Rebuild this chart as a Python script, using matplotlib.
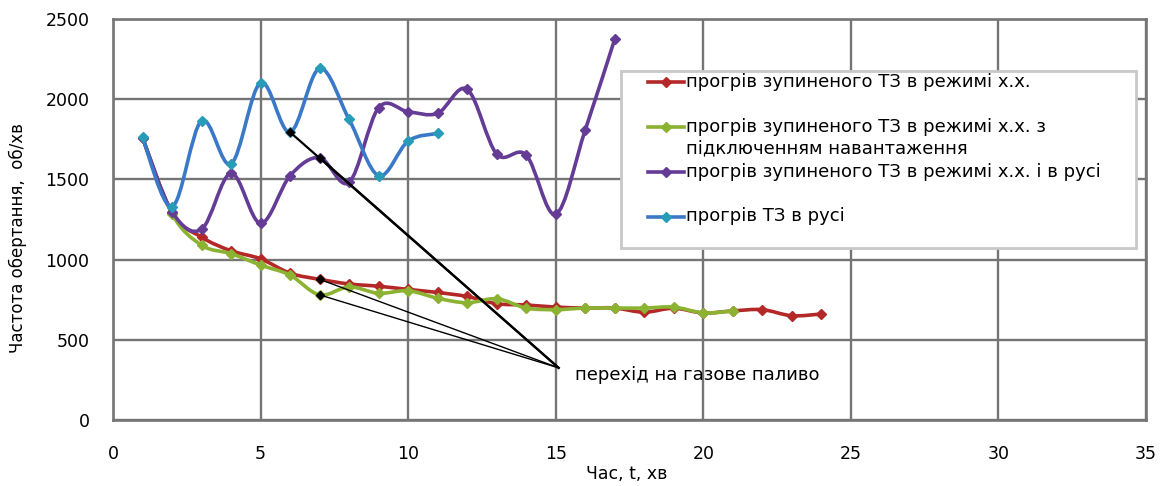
import numpy as np
import matplotlib
matplotlib.use('Agg')
import matplotlib.pyplot as plt
from matplotlib.path import Path
from matplotlib.patches import PathPatch, Rectangle
from matplotlib.lines import Line2D
from matplotlib.legend_handler import HandlerLine2D

plt.rcParams['font.family'] = ['DejaVu Sans']

# ---------------- data ----------------
t_red = list(range(1, 25))
n_red = [1760, 1290, 1140, 1055, 1005, 915, 877, 848, 834, 814, 795, 770,
         725, 717, 704, 698, 698, 672, 697, 667, 680, 688, 650, 661]
t_green = list(range(1, 22))
n_green = [1760, 1285, 1090, 1037, 966, 903, 780, 830, 790, 806, 759, 731,
           756, 698, 688, 698, 698, 698, 704, 668, 680]
t_purple = list(range(1, 18))
n_purple = [1760, 1299, 1189, 1538, 1226, 1523, 1636, 1482, 1947, 1922, 1912,
            2062, 1658, 1652, 1282, 1808, 2375]
t_blue = list(range(1, 12))
n_blue = [1762, 1330, 1866, 1596, 2103, 1794, 2192, 1874, 1523, 1739, 1787]

labels = ["прогрів зупиненого ТЗ в режимі х.х.",
          "прогрів зупиненого ТЗ в режимі х.х. з\nпідключенням навантаження",
          "прогрів зупиненого ТЗ в режимі х.х. і в русі",
          "прогрів ТЗ в русі"]

# points where the switch to gas fuel happens (series index, time)
gas_series = [3, 2, 0, 1]
gas_t = [6, 7, 7, 7]
gas_label = "перехід на газове паливо"
gas_target = (15.1, 325)

x_ticks = [0, 5, 10, 15, 20, 25, 30, 35]
y_ticks = [0, 500, 1000, 1500, 2000, 2500]
xlabel = "Час, t, хв"
ylabel = "Частота обертання,  об/хв"

# ---------------- style ----------------
line_colors = ['#B42828', '#8CB232', '#643C96', '#3A78C8']
marker_colors = ['#B42828', '#8CB232', '#643C96', '#289BB9']
grid_col = '#757575'


def smooth_path(x, y):
    pts = np.column_stack([np.asarray(x, float), np.asarray(y, float)])
    n = len(pts)
    verts = [pts[0]]
    codes = [Path.MOVETO]
    for i in range(n - 1):
        p0 = pts[i - 1] if i > 0 else pts[i]
        p1 = pts[i]
        p2 = pts[i + 1]
        p3 = pts[i + 2] if i + 2 < n else pts[i + 1]
        c1 = p1 + (p2 - p0) / 6.0
        c2 = p2 - (p3 - p1) / 6.0
        verts += [c1, c2, p2]
        codes += [Path.CURVE4] * 3
    return Path(verts, codes)


fig = plt.figure(figsize=(11.75, 4.86), dpi=100)
ax = fig.add_axes([113 / 1175, 66 / 486, 1033 / 1175, 401 / 486])
ax.set_xlim(0, 35)
ax.set_ylim(0, 2500)
ax.set_xticks(x_ticks)
ax.set_yticks(y_ticks)
ax.grid(True, color=grid_col, lw=1.7)
ax.set_axisbelow(True)
for s in ax.spines.values():
    s.set_color(grid_col)
    s.set_linewidth(1.9)
ax.tick_params(length=0, labelsize=12.5, colors='black')
ax.tick_params(axis='x', pad=18)
ax.tick_params(axis='y', pad=17)

series = [(t_red, n_red), (t_green, n_green), (t_purple, n_purple), (t_blue, n_blue)]
handles = []
for i, (tx, ny) in enumerate(series):
    patch = PathPatch(smooth_path(tx, ny), fill=False, edgecolor=line_colors[i],
                      lw=2.6, capstyle='round', joinstyle='round', zorder=3 + i)
    ax.add_patch(patch)
    ax.plot(tx, ny, ls='none', marker='D', ms=5.5, color=marker_colors[i],
            zorder=3 + i)
    handles.append(Line2D([], [], color=line_colors[i], lw=2.6, marker='D', ms=5,
                          mfc=marker_colors[i], mec=marker_colors[i]))

# gas fuel annotation
for k, (si, tt) in enumerate(zip(gas_series, gas_t)):
    tx, ny = series[si]
    yv = ny[tx.index(tt)]
    lw = 1.6 if k < 2 else 1.0
    ax.plot([tt, gas_target[0]], [yv, gas_target[1]], color='black', lw=lw, zorder=9)
    ax.plot([tt], [yv], ls='none', marker='D', ms=4.5, color='black', zorder=10)
ax.text(gas_target[0] + 0.55, gas_target[1] - 45, gas_label, fontsize=13,
        ha='left', va='center', zorder=10)

ax.set_xlabel(xlabel, fontsize=12.5)
ax.set_ylabel(ylabel, fontsize=12)
ax.xaxis.set_label_coords(0.4976, -0.113)
ax.yaxis.set_label_coords(-0.083, 0.454)

# legend
ax.add_patch(Rectangle((0.4918, 0.4289), 0.9903 - 0.4918, 0.8703 - 0.4289,
                       transform=ax.transAxes, facecolor='white',
                       edgecolor='#C8C8C8', lw=2, zorder=20))


class ShiftedLine(HandlerLine2D):
    def __init__(self, dy, **kw):
        super().__init__(**kw)
        self.dy = dy

    def create_artists(self, legend, orig_handle, xdescent, ydescent, width,
                       height, fontsize, trans):
        arts = super().create_artists(legend, orig_handle, xdescent, ydescent,
                                      width, height, fontsize, trans)
        for a in arts:
            a.set_ydata(np.asarray(a.get_ydata(), float) + self.dy * fontsize)
        return arts


leg_labels = [l if '\n' in l else l + "\n " for l in labels]
leg = ax.legend(handles, leg_labels, loc='upper left',
                bbox_to_anchor=(0.5179, 0.866), frameon=False, fontsize=13,
                handlelength=2.0, handletextpad=0.12, labelspacing=0.30,
                borderpad=0, borderaxespad=0, numpoints=1,
                handler_map={Line2D: ShiftedLine(0.60)})
leg.set_zorder(21)
for t in leg.get_texts():
    t.set_linespacing(1.25)

fig.savefig('out.png', dpi=100)
